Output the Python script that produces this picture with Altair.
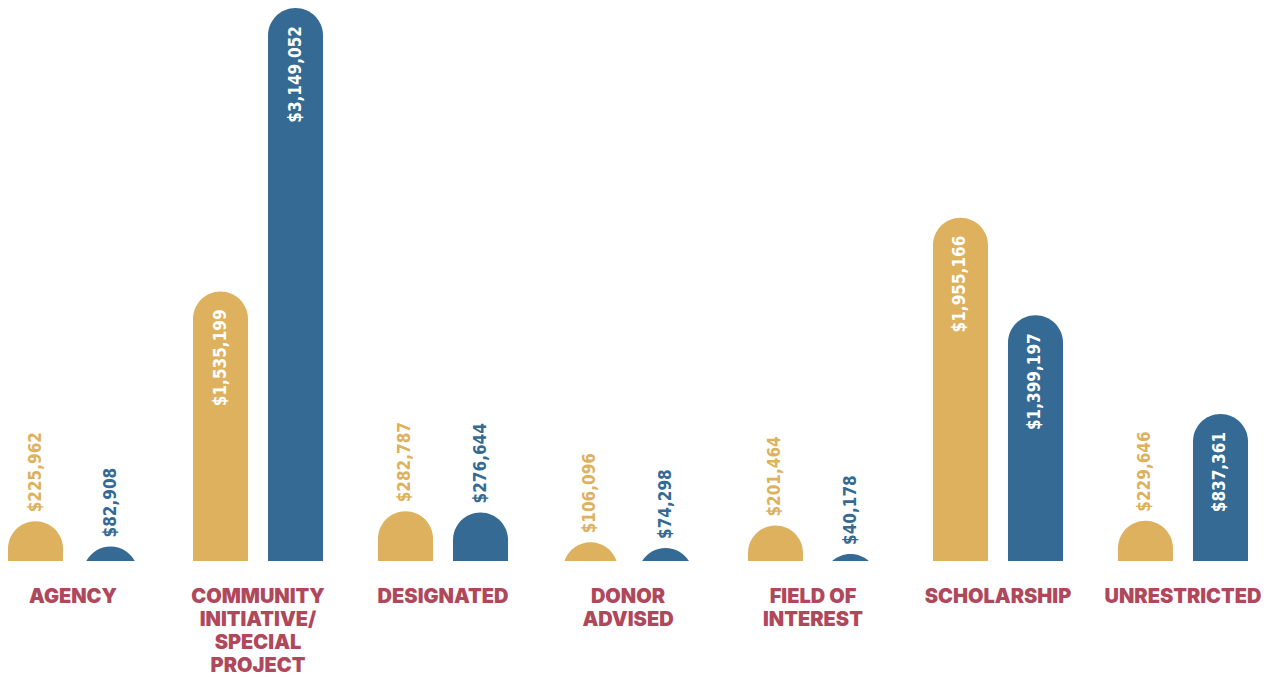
import altair as alt
import pandas as pd

categories = [
    "AGENCY",
    "COMMUNITY|INITIATIVE/|SPECIAL|PROJECT",
    "DESIGNATED",
    "DONOR|ADVISED",
    "FIELD OF|INTEREST",
    "SCHOLARSHIP",
    "UNRESTRICTED",
]
series_names = ["Series 1", "Series 2"]
gold_values = [225962, 1535199, 282787, 106096, 201464, 1955166, 229646]
blue_values = [82908, 3149052, 276644, 74298, 40178, 1399197, 837361]
colors = ["#DDB15E", "#346A93"]

rows = []
for i, c in enumerate(categories):
    rows.append({"category": c, "series": series_names[0], "value": gold_values[i]})
    rows.append({"category": c, "series": series_names[1], "value": blue_values[i]})
df = pd.DataFrame(rows)

PLOT_W, PLOT_H = 1240, 553
Y_MAX = max(gold_values + blue_values)
RADIUS_PX = 27.5
# twice the corner radius, expressed in data units (so short bars show a circular cap)
cap_data = 2 * RADIUS_PX * Y_MAX / PLOT_H

x = alt.X(
    "category:N",
    sort=categories,
    scale=alt.Scale(paddingInner=0.297, paddingOuter=0),
    axis=alt.Axis(
        title=None,
        domain=False,
        ticks=False,
        labelAngle=0,
        labelExpr="split(datum.label, '|')",
        labelFont="Inter",
        labelFontWeight=900,
        labelFontSize=20,
        labelColor="#B0485C",
        labelPadding=25,
        labelLineHeight=23,
        labelLimit=400,
        labelOverlap=False,
        labelFlush=False,
    ),
)
xo = alt.XOffset(
    "series:N",
    sort=series_names,
    scale=alt.Scale(paddingInner=0.2667, paddingOuter=0),
)
y = alt.Y("value:Q", scale=alt.Scale(domain=[0, Y_MAX], nice=False), axis=None)
color = alt.Color(
    "series:N",
    scale=alt.Scale(domain=series_names, range=colors),
    legend=None,
)

base = alt.Chart(df).encode(x=x, xOffset=xo, y=y)

bars = (
    base.transform_calculate(low=f"min(0, datum.value - {cap_data})")
    .mark_bar(cornerRadiusTopLeft=RADIUS_PX, cornerRadiusTopRight=RADIUS_PX, clip=True)
    .encode(y2="low:Q", color=color)
)

label_font = dict(font="DejaVu Sans Condensed", fontWeight="bold", fontSize=17)

inside = (
    base.transform_filter("datum.value >= 500000")
    .transform_calculate(label="'$' + format(datum.value, ',')")
    .mark_text(angle=270, align="right", baseline="middle", dx=-18, color="white", **label_font)
    .encode(text="label:N")
)
outside = (
    base.transform_filter("datum.value < 500000")
    .transform_calculate(label="'$' + format(datum.value, ',')")
    .mark_text(angle=270, align="left", baseline="middle", dx=9, **label_font)
    .encode(text="label:N", color=color)
)

chart = (
    alt.layer(bars, inside, outside)
    .properties(width=PLOT_W, height=PLOT_H, background="white", padding=0)
    .configure_view(stroke=None)
)

chart.save("out.html", embed_options={"renderer": "svg", "actions": False})
